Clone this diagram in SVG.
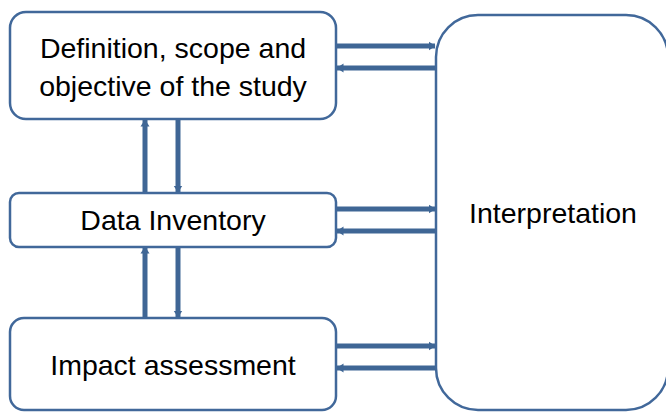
<svg xmlns="http://www.w3.org/2000/svg" width="666" height="412" viewBox="0 0 666 412">
<defs>
<style>
.box{fill:#fff;stroke:#41689A;stroke-width:2.5}
.lbl{font-family:"Liberation Sans",Arial,sans-serif;font-size:28.5px;fill:#000;text-anchor:middle}
.con{stroke:#3F6695;stroke-width:5;fill:none;marker-end:url(#ah)}
</style>
<marker id="ah" markerWidth="3" markerHeight="3" refX="1.3" refY="1.5" orient="auto" markerUnits="strokeWidth" viewBox="0 0 3 3">
<path d="M0,0.6 L1.4,1.5 L0,2.4 Z" fill="#3F6695"/>
</marker>
</defs>
<rect width="666" height="412" fill="#fff"/>
<g id="connectors">
<line class="con" x1="337" y1="46" x2="435" y2="46"/>
<line class="con" x1="435" y1="68" x2="337" y2="68"/>
<line class="con" x1="337" y1="209" x2="435" y2="209"/>
<line class="con" x1="435" y1="231" x2="337" y2="231"/>
<line class="con" x1="337" y1="346" x2="435" y2="346"/>
<line class="con" x1="435" y1="368" x2="337" y2="368"/>
<line class="con" x1="145" y1="192" x2="145" y2="120"/>
<line class="con" x1="178" y1="120" x2="178" y2="192"/>
<line class="con" x1="145" y1="317" x2="145" y2="247"/>
<line class="con" x1="178" y1="247" x2="178" y2="317"/>
</g>
<g id="interpretation">
<rect class="box" x="436" y="15" width="232" height="395" rx="42"/>
<text class="lbl" x="553" y="223">Interpretation</text>
</g>
<g id="definition">
<rect class="box" x="10" y="12" width="326" height="107" rx="16"/>
<text class="lbl" x="173" y="58">Definition, scope and</text>
<text class="lbl" x="173" y="96">objective of the study</text>
</g>
<g id="inventory">
<rect class="box" x="10" y="193" width="326" height="54" rx="9"/>
<text class="lbl" x="173" y="230">Data Inventory</text>
</g>
<g id="impact">
<rect class="box" x="10" y="318" width="326" height="92" rx="14"/>
<text class="lbl" x="173" y="375">Impact assessment</text>
</g>
</svg>
